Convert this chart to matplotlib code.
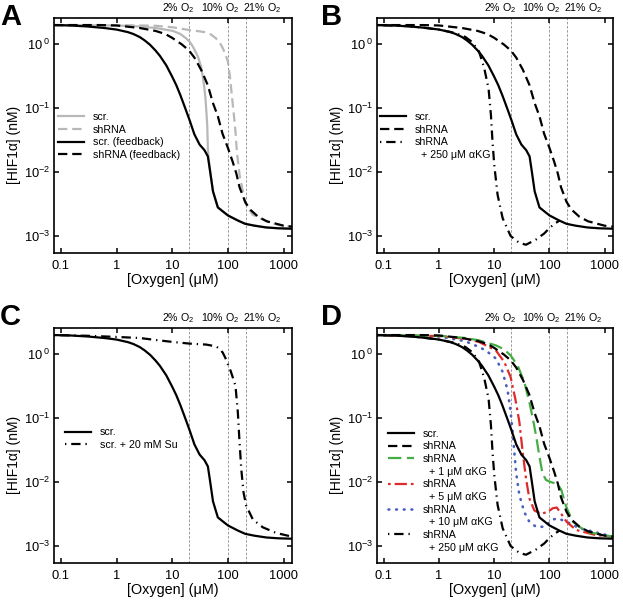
import matplotlib
matplotlib.use("Agg")
import matplotlib.pyplot as plt
from matplotlib.lines import Line2D
import matplotlib.transforms as mtransforms

plt.rcParams['font.family'] = ['Liberation Sans', 'DejaVu Sans']
plt.rcParams['mathtext.fontset'] = 'custom'
plt.rcParams['mathtext.rm'] = 'Liberation Sans'
plt.rcParams['mathtext.it'] = 'Liberation Sans:italic'
plt.rcParams['mathtext.bf'] = 'Liberation Sans:bold'

# ---------------- data ----------------
o2_levels = [20, 100, 210]
o2_labels = ['2% O$_2$', '10% O$_2$', '21% O$_2$']

x_ticks = [0.1, 1, 10, 100, 1000]
x_ticklabels = ['0.1', '1', '10', '100', '1000']
y_ticks = [1e-3, 1e-2, 1e-1, 1e0]
y_ticklabels = [r'$10^{-3}$', r'$10^{-2}$', r'$10^{-1}$', r'$10^{\;0}$']

# scr. (feedback) -- also "scr." in B, C, D
ox_scr = [0.075, 0.15, 0.3, 0.6, 1.0, 1.6, 2.0, 2.6, 3.2, 4.0, 5.0, 6.0, 7.8, 10, 11.8, 14, 16.7,
          20.5, 25, 31, 38, 43.7, 48, 54, 66, 100, 150, 205, 300, 490, 800, 1420]
hif_scr = [2.0, 1.97, 1.9, 1.8, 1.70, 1.55, 1.45, 1.30, 1.15, 0.98, 0.80, 0.66, 0.47, 0.31, 0.23,
           0.16, 0.106, 0.065, 0.039, 0.027, 0.022, 0.0176, 0.0102, 0.0050, 0.0028, 0.0021, 0.00175,
           0.00155, 0.00145, 0.00136, 0.00132, 0.0013]

# scr. (no feedback), panel A grey solid
ox_scr_nofb = [0.075, 1, 2.6, 5, 10.3, 14, 17.8, 20.5, 23.5, 29, 33, 35, 37.5, 39.6, 41, 42.5, 43.7,
               45, 48, 54, 66, 100, 205, 490, 1420]
hif_scr_nofb = [2.0, 1.97, 1.9, 1.8, 1.62, 1.45, 1.24, 1.10, 0.92, 0.64, 0.45, 0.33, 0.22, 0.14, 0.09,
                0.055, 0.024, 0.0166, 0.0102, 0.0050, 0.0028, 0.0021, 0.00155, 0.00136, 0.0013]

# shRNA (no feedback), panel A grey dashed
ox_shrna_nofb = [0.075, 1, 5, 10, 20.5, 30, 40.8, 50, 61, 71, 81, 90, 100, 110, 119.5, 128, 137,
                 145, 162, 205, 240, 280, 490, 800, 1420]
hif_shrna_nofb = [2.0, 2.0, 1.95, 1.85, 1.67, 1.6, 1.54, 1.42, 1.24, 1.07, 0.87, 0.70, 0.54, 0.29,
                  0.14, 0.079, 0.043, 0.021, 0.0091, 0.0033, 0.0026, 0.00215, 0.0017, 0.0015, 0.0014]

# shRNA (feedback) -- also "shRNA" in B, D
ox_shrna = [0.075, 0.5, 1, 2.6, 5, 7.5, 10, 15, 20, 25, 33, 43.5, 54, 66, 80, 100, 122, 142, 162,
            205, 250, 350, 500, 1000, 1420]
hif_shrna = [2.0, 2.0, 1.97, 1.80, 1.62, 1.45, 1.26, 0.99, 0.80, 0.62, 0.40, 0.23, 0.12, 0.075,
             0.040, 0.024, 0.0145, 0.0095, 0.0058, 0.0034, 0.0026, 0.0020, 0.0017, 0.00145, 0.0014]

# shRNA + 250 uM aKG
ox_akg250 = [0.075, 0.3, 1.0, 2.0, 3.0, 4.0, 5.3, 6.6, 7.9, 8.7, 9.3, 10, 11.5, 14.2, 19.8, 28.5,
             37.6, 57, 81, 100, 123, 152]
hif_akg250 = [2.0, 1.92, 1.70, 1.50, 1.30, 1.08, 0.77, 0.42, 0.20, 0.079, 0.030, 0.013, 0.0044,
              0.0019, 0.0010, 0.00078, 0.00073, 0.00088, 0.0011, 0.00133, 0.00155, 0.00174]

# scr. + 20 mM Su
ox_su = [0.075, 0.3, 1, 2.6, 5.2, 10.3, 20.5, 40.8, 61, 71, 81, 90, 100, 112, 123, 137, 151, 162,
         174, 191, 213, 281, 425, 738, 1420]
hif_su = [2.0, 1.95, 1.87, 1.80, 1.67, 1.56, 1.47, 1.42, 1.33, 1.22, 1.06, 0.88, 0.70, 0.55, 0.43,
          0.32, 0.123, 0.042, 0.016, 0.0069, 0.0043, 0.0026, 0.00196, 0.0016, 0.0014]

# shRNA + 1 uM aKG
ox_akg1 = [0.075, 1, 3, 5.3, 10.7, 15, 19.8, 26.5, 35, 43.2, 50, 58, 66, 75, 87, 100, 120, 142,
           165, 185, 204, 265, 465, 1420]
hif_akg1 = [2.0, 1.95, 1.8, 1.65, 1.38, 1.2, 0.96, 0.67, 0.37, 0.18, 0.10, 0.05, 0.025, 0.0135,
            0.0108, 0.0102, 0.0097, 0.0092, 0.0075, 0.0052, 0.0040, 0.0024, 0.00167, 0.0014]

# shRNA + 5 uM aKG
ox_akg5 = [0.075, 1, 3, 5.3, 10.7, 15.2, 19.8, 24.1, 28.5, 32.7, 37.6, 43.2, 53.3, 70, 93, 115,
           136, 163, 204, 305, 700, 1420]
hif_akg5 = [2.0, 1.93, 1.75, 1.56, 1.15, 0.76, 0.44, 0.20, 0.088, 0.030, 0.0114, 0.0056, 0.0036,
            0.0032, 0.0034, 0.0039, 0.0040, 0.0032, 0.0024, 0.00178, 0.00148, 0.0014]

# shRNA + 10 uM aKG
ox_akg10 = [0.075, 1, 3, 5.3, 7, 10.7, 14.2, 17.5, 19.8, 21.5, 23.1, 24.8, 28.5, 35, 43.2, 57, 81,
            115, 142, 204, 350, 1420]
hif_akg10 = [2.0, 1.9, 1.6, 1.30, 1.15, 0.86, 0.53, 0.27, 0.126, 0.061, 0.030, 0.0145, 0.0063,
             0.0034, 0.0024, 0.0020, 0.0020, 0.0026, 0.0027, 0.0024, 0.0019, 0.0014]

# ---------------- styling ----------------
LW = 1.6
GREY = '#b8b8b8'
GREEN = '#45ad45'
RED = '#dd2a2a'
BLUE = '#4a5fc0'
DASH = (0, (4.2, 2.2))
DASHDOT = (0, (0.6, 2.2, 4.2, 2.2))
GREEN_DASH = (0, (6, 2.5))
RED_DD = (0, (1.2, 1.8, 5.5, 1.8))
DOT = (0, (0.3, 2.6))

fig = plt.figure(figsize=(6.23, 6.03), dpi=100)
W, H = 623.0, 603.0
rects = {
    'A': [54 / W, (H - 253) / H, 238 / W, 235 / H],
    'B': [377 / W, (H - 253) / H, 236 / W, 235 / H],
    'C': [54 / W, (H - 563) / H, 238 / W, 235 / H],
    'D': [377 / W, (H - 563) / H, 236 / W, 235 / H],
}
letter_pos = {'A': (0 / W, 1 - 3 / H), 'B': (321 / W, 1 - 3 / H),
              'C': (0 / W, 1 - 303 / H), 'D': (321 / W, 1 - 303 / H)}
label_xfrac = [0.521, 0.697, 0.874]


def setup(ax):
    ax.set_xscale('log')
    ax.set_yscale('log')
    ax.set_xlim(0.075, 1420)
    ax.set_ylim(5.42e-4, 2.58)
    ax.set_xticks(x_ticks)
    ax.set_xticklabels(x_ticklabels)
    ax.set_yticks(y_ticks)
    ax.set_yticklabels(y_ticklabels)
    ax.minorticks_off()
    ax.tick_params(which='major', direction='in', length=3.8, width=1.1,
                   top=True, right=True, labelsize=9.3)
    ax.tick_params(axis='x', pad=5)
    ax.tick_params(axis='y', pad=3)
    for s in ax.spines.values():
        s.set_linewidth(1.2)
    for lvl in o2_levels:
        ax.axvline(lvl, color='#8a8a8a', lw=0.6, ls=(0, (3, 2)), zorder=1)
    trans = mtransforms.blended_transform_factory(ax.transAxes, ax.transAxes)
    for xf, lab in zip(label_xfrac, o2_labels):
        ax.text(xf, 1.028, lab, transform=trans, ha='center', va='baseline', fontsize=7.7)
    ax.set_xlabel('[Oxygen] (μM)', fontsize=10.4)
    ax.set_ylabel('[HIF1α] (nM)', fontsize=10)
    ax.xaxis.set_label_coords(0.5, -0.085)
    ax.yaxis.set_label_coords(-0.14, 0.46)


def legend(ax, handles, labels, x, y):
    ax.legend(handles, labels, loc='upper left', bbox_to_anchor=(x, y), frameon=False,
              fontsize=7.7, handlelength=2.4, handletextpad=0.85, labelspacing=0.25,
              borderpad=0, borderaxespad=0)


blank = Line2D([], [], color='none')

# Panel A
axA = fig.add_axes(rects['A'])
setup(axA)
a1, = axA.plot(ox_scr_nofb, hif_scr_nofb, color=GREY, lw=LW)
a2, = axA.plot(ox_shrna_nofb, hif_shrna_nofb, color=GREY, lw=LW, ls=DASH)
a3, = axA.plot(ox_scr, hif_scr, color='black', lw=LW)
a4, = axA.plot(ox_shrna, hif_shrna, color='black', lw=LW, ls=DASH)
legend(axA, [a1, a2, a3, a4], ['scr.', 'shRNA', 'scr. (feedback)', 'shRNA (feedback)'], 0.017, 0.60)

# Panel B
axB = fig.add_axes(rects['B'])
setup(axB)
b1, = axB.plot(ox_scr, hif_scr, color='black', lw=LW)
b2, = axB.plot(ox_shrna, hif_shrna, color='black', lw=LW, ls=DASH)
b3, = axB.plot(ox_akg250, hif_akg250, color='black', lw=LW, ls=DASHDOT)
legend(axB, [b1, b2, b3, blank], ['scr.', 'shRNA', 'shRNA', '  + 250 μM αKG'], 0.013, 0.60)

# Panel C
axC = fig.add_axes(rects['C'])
setup(axC)
c1, = axC.plot(ox_scr, hif_scr, color='black', lw=LW)
c2, = axC.plot(ox_su, hif_su, color='black', lw=LW, ls=DASHDOT)
legend(axC, [c1, c2], ['scr.', 'scr. + 20 mM Su'], 0.046, 0.577)

# Panel D
axD = fig.add_axes(rects['D'])
setup(axD)
d6, = axD.plot(ox_akg250, hif_akg250, color='black', lw=LW, ls=DASHDOT)
d5, = axD.plot(ox_akg10, hif_akg10, color=BLUE, lw=1.9, ls=DOT, dash_capstyle='round')
d4, = axD.plot(ox_akg5, hif_akg5, color=RED, lw=LW, ls=RED_DD)
d3, = axD.plot(ox_akg1, hif_akg1, color=GREEN, lw=LW, ls=GREEN_DASH)
d2, = axD.plot(ox_shrna, hif_shrna, color='black', lw=LW, ls=DASH)
d1, = axD.plot(ox_scr, hif_scr, color='black', lw=LW)
legend(axD, [d1, d2, d3, blank, d4, blank, d5, blank, d6, blank],
       ['scr.', 'shRNA', 'shRNA', '  + 1 μM αKG', 'shRNA', '  + 5 μM αKG',
        'shRNA', '  + 10 μM αKG', 'shRNA', '  + 250 μM αKG'], 0.047, 0.572)

for k, (px, py) in letter_pos.items():
    fig.text(px, py, k, fontsize=21, fontweight='bold', ha='left', va='top')

fig.savefig('out.png', dpi=100)
